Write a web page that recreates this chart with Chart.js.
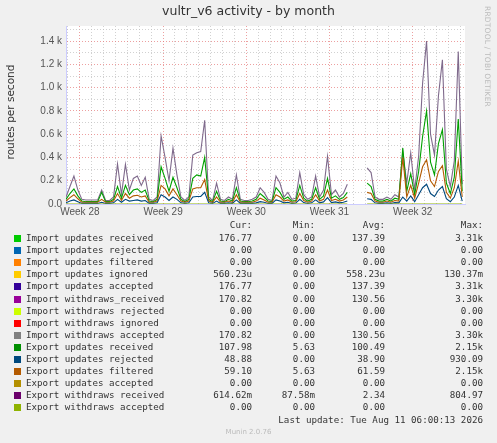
<!DOCTYPE html>
<html><head><meta charset="utf-8">
<script src="https://cdn.jsdelivr.net/npm/chart.js@4"></script>
<style>
body{margin:0;background:#f0f0f0;width:497px;height:443px;position:relative;overflow:hidden;font-family:"DejaVu Sans",sans-serif;}
#wrap{position:absolute;left:0;top:0;width:497px;height:220px;}
#title{position:absolute;top:3px;left:0;width:497px;text-align:center;font-size:12.5px;color:#333;}
#ylab{position:absolute;left:-45px;top:106px;width:110px;text-align:center;transform:rotate(-90deg);font-size:10.5px;color:#333;white-space:nowrap;}
#rrd{position:absolute;left:483px;top:6px;writing-mode:vertical-rl;font-size:7.5px;color:#bbb;letter-spacing:0.2px;}
#legend{position:absolute;left:0;top:219px;font-family:"DejaVu Sans Mono",monospace;font-size:9.2px;color:#333;white-space:pre;}
.row{position:absolute;height:13px;}
.sq{position:absolute;left:14px;top:3px;width:7px;height:7px;}
.c{position:absolute;text-align:right;}
#foot{position:absolute;left:0;top:428px;width:497px;text-align:center;font-size:7px;color:#bbb;}
</style></head><body>
<div id="wrap"><canvas id="c" width="497" height="220"></canvas></div>
<div id="title">vultr_v6 activity - by month</div>
<div id="ylab">routes per second</div>
<div id="rrd">RRDTOOL / TOBI OETIKER</div>
<div id="legend"></div>
<div id="foot">Munin 2.0.76</div>
<script>
const weekLabels = ["Week 28", "Week 29", "Week 30", "Week 31", "Week 32"];
const weekPos = [3.5, 24.5, 45.5, 66.5, 87.5];
const N = null;
const withdrawsTop = [60,150,240,120,40,35,35,35,35,120,30,30,60,345,80,340,120,220,240,160,230,40,30,60,585,400,200,480,250,60,30,60,420,440,450,720,60,30,180,40,30,60,40,250,40,30,30,40,60,140,100,40,30,240,180,60,100,40,50,270,80,40,60,240,60,120,410,80,120,60,90,170,N,N,N,N,310,270,60,40,40,60,40,80,60,450,180,440,120,410,1040,1400,600,420,930,1240,300,150,370,1310,170];
const importReceived = [40,90,130,70,25,20,20,20,20,100,20,20,40,150,50,160,80,120,130,100,120,25,20,40,320,220,110,230,140,40,20,40,220,250,240,400,40,20,110,25,20,40,25,140,25,20,20,25,40,90,60,25,20,140,100,40,60,25,30,160,50,25,40,140,40,70,220,50,70,40,55,100,N,N,N,N,180,150,40,25,25,40,25,50,40,480,110,260,80,280,580,800,360,250,520,640,180,90,230,730,110];
const exportFiltered = [25,55,80,45,15,15,15,15,15,40,15,15,25,90,30,90,50,70,75,60,70,15,15,25,160,130,70,130,80,25,15,25,130,140,140,210,25,15,60,15,15,25,15,80,15,15,15,15,25,50,35,15,15,80,60,25,35,15,20,90,30,15,25,80,25,40,120,30,40,25,35,60,N,N,N,N,100,90,25,15,15,25,15,30,25,400,60,160,50,180,320,380,200,150,280,330,100,50,140,370,60];
const exportRejected = [10,25,35,20,5,5,5,5,5,15,5,5,10,40,15,40,25,30,35,25,30,5,5,10,80,60,30,60,40,10,5,10,60,65,65,100,10,5,25,5,5,10,5,35,5,5,5,5,10,20,15,5,5,35,25,10,15,5,8,40,12,5,10,35,10,18,55,12,18,10,15,25,N,N,N,N,45,40,10,5,5,10,5,12,10,60,25,70,20,80,140,170,90,65,120,150,45,20,60,160,25];
const zeroLine = withdrawsTop.map(v => v === null ? null : 0);

const legendNames = ["Import updates received","Import updates rejected","Import updates filtered","Import updates ignored","Import updates accepted","Import withdraws_received","Import withdraws rejected","Import withdraws ignored","Import withdraws accepted","Export updates received","Export updates rejected","Export updates filtered","Export updates accepted","Export withdraws received","Export withdraws accepted"];
const legendColors = ["#00cc00","#0066b3","#ff8000","#ffcc00","#330099","#990099","#ccff00","#ff0000","#808080","#008f00","#00487d","#b35a00","#b38f00","#6b006b","#8fb300"];
const curVals = ["176.77","0.00","0.00","560.23u","176.77","170.82","0.00","0.00","170.82","107.98","48.88","59.10","0.00","614.62m","0.00"];
const minVals = ["0.00","0.00","0.00","0.00","0.00","0.00","0.00","0.00","0.00","5.63","0.00","5.63","0.00","87.58m","0.00"];
const avgVals = ["137.39","0.00","0.00","558.23u","137.39","130.56","0.00","0.00","130.56","100.49","38.90","61.59","0.00","2.34","0.00"];
const maxVals = ["3.31k","0.00","0.00","130.37m","3.31k","3.30k","0.00","0.00","3.30k","2.15k","930.09","2.15k","0.00","804.97","0.00"];

const pts = arr => arr.map((v, i) => ({x: i, y: v}));
const ds = (arr, color) => ({data: pts(arr), borderColor: color, borderWidth: 1.1, pointRadius: 0, spanGaps: false, tension: 0});

// white plot area like rrdtool
const plotBg = {
  id: "plotBg",
  beforeDraw(chart) {
    const {ctx, chartArea: a} = chart;
    ctx.save();
    ctx.fillStyle = "#ffffff";
    ctx.fillRect(a.left, a.top, a.right - a.left, a.bottom - a.top);
    ctx.restore();
  }
};

new Chart(document.getElementById("c"), {
  type: "line",
  data: {datasets: [
    ds(zeroLine, "#8fb300"),
    ds(exportRejected, "#00487d"),
    ds(exportFiltered, "#b35a00"),
    ds(importReceived, "#00a000"),
    ds(withdrawsTop, "#7f6a8c")
  ]},
  plugins: [plotBg],
  options: {
    responsive: false, animation: false, devicePixelRatio: 1,
    layout: {padding: {top: 26, right: 32}},
    plugins: {legend: {display: false}, tooltip: {enabled: false}},
    scales: {
      x: {type: "linear", min: 0, max: 100.7,
        afterBuildTicks: a => { const t = []; for (let v = 0.5; v <= 100.7; v += 3) t.push({value: v}); a.ticks = t; },
        ticks: {autoSkip: false, maxRotation: 0, color: "#555", font: {size: 10}, padding: 2,
          callback: v => { const k = weekPos.findIndex(p => Math.abs(p - v) < 0.01); return k >= 0 ? weekLabels[k] : ""; }},
        grid: {color: c => weekPos.some(p => Math.abs(p - c.tick.value) < 0.01) ? "rgba(230,120,120,0.7)" : "rgba(190,190,190,0.7)",
          drawTicks: false},
        border: {color: "#ccccff", dash: [1, 2]}},
      y: {min: 0, max: 1530,
        afterFit: a => { a.width = 66; },
        afterBuildTicks: a => { const t = []; for (let v = 0; v <= 1500; v += 100) t.push({value: v}); a.ticks = t; },
        ticks: {autoSkip: false, color: "#555", font: {size: 10}, padding: 4,
          callback: v => v % 200 ? "" : (v === 0 ? "0.0" : (v / 1000).toFixed(1) + " k")},
        grid: {color: c => c.tick.value % 200 === 0 ? "rgba(230,120,120,0.7)" : "rgba(190,190,190,0.7)",
          drawTicks: false},
        border: {color: "#ccccff", dash: [1, 2]}}
    }
  }
});

const L = document.getElementById("legend");
let h = '<div class="row" style="top:0px;left:0;width:497px">' +
  '<span class="c" style="right:245px">Cur:</span><span class="c" style="right:182px">Min:</span>' +
  '<span class="c" style="right:112px">Avg:</span><span class="c" style="right:14px">Max:</span></div>';
legendNames.forEach((n, i) => {
  const top = 13 + i * 12.1;
  h += `<div class="row" style="top:${top}px;left:0;width:497px"><span class="sq" style="background:${legendColors[i]}"></span>` +
    `<span style="position:absolute;left:26px">${n}</span>` +
    `<span class="c" style="right:245px">${curVals[i]}</span><span class="c" style="right:182px">${minVals[i]}</span>` +
    `<span class="c" style="right:112px">${avgVals[i]}</span><span class="c" style="right:14px">${maxVals[i]}</span></div>`;
});
h += '<div class="row" style="top:195px;left:0;width:497px"><span class="c" style="right:14px">Last update: Tue Aug 11 06:00:13 2026</span></div>';
L.innerHTML = h;
</script>
</body></html>
